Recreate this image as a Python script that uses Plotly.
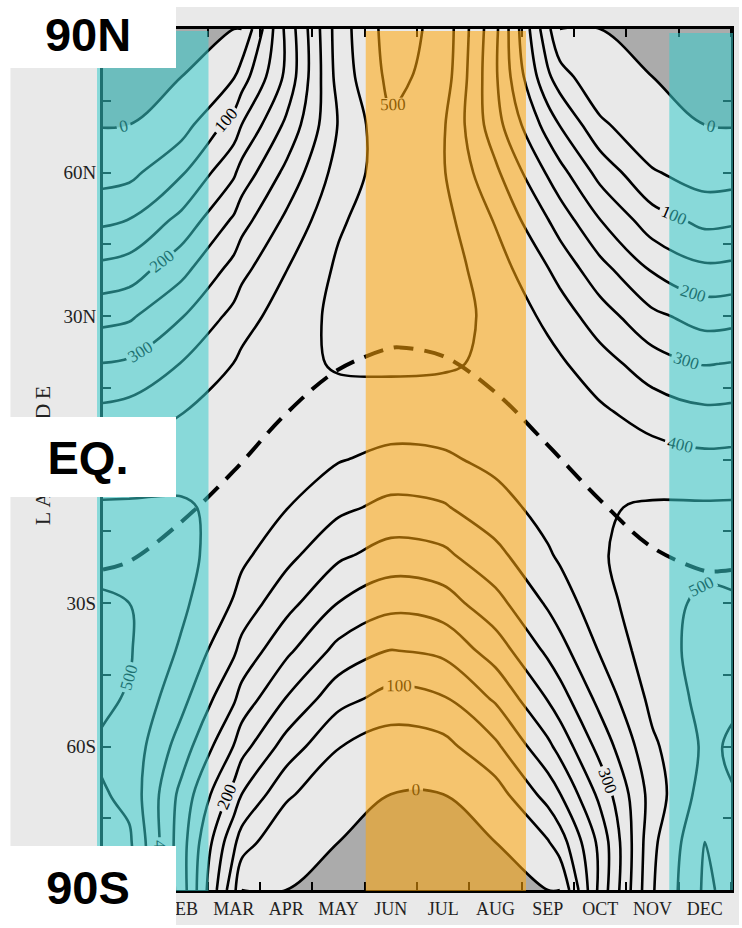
import plotly.graph_objects as go

# ---------------- data (daily mean insolation, W m-2, read/estimated from the chart) -------------
months = ["JAN", "FEB", "MAR", "APR", "MAY", "JUN", "JUL", "AUG", "SEP", "OCT", "NOV", "DEC"]
latitudes = [90, 80, 70, 60, 50, 40, 30, 20, 10, 0, -10, -20, -30, -40, -50, -60, -70, -80, -90]

# mid-month profiles
jan = [0, 0, 0, 36, 101, 172, 242, 308, 368, 418, 457, 485, 500, 504, 497, 484, 486, 509, 517]
feb = [0, 0, 28, 94, 165, 233, 297, 352, 398, 433, 455, 464, 460, 443, 415, 377, 335, 322, 326]
mar = [0, 47, 121, 192, 258, 316, 364, 401, 427, 439, 438, 424, 396, 357, 307, 248, 182, 111, 65]
apr = [212, 211, 260, 313, 360, 398, 424, 438, 438, 426, 402, 365, 318, 261, 198, 129, 60, 2, 0]
may = [426, 420, 403, 421, 443, 458, 462, 454, 435, 403, 361, 309, 249, 184, 117, 52, 3, 0, 0]
jun = [523, 515, 492, 477, 483, 484, 476, 458, 428, 387, 337, 279, 215, 148, 82, 24, 0, 0, 0]
jul = [485, 478, 456, 454, 466, 473, 469, 455, 429, 392, 345, 289, 227, 161, 95, 34, 0, 0, 0]
aug = [312, 307, 320, 360, 396, 423, 439, 443, 434, 413, 380, 336, 283, 223, 157, 90, 27, 0, 0]
sep = [64, 109, 179, 244, 302, 351, 389, 416, 430, 431, 419, 394, 357, 310, 253, 188, 119, 46, 0]
oct = [0, 2, 61, 132, 201, 266, 323, 371, 408, 433, 446, 445, 431, 404, 366, 318, 264, 215, 216]
nov = [0, 0, 3, 55, 122, 193, 261, 323, 377, 422, 455, 476, 484, 480, 464, 441, 422, 439, 446]
dec = [0, 0, 0, 25, 87, 158, 229, 297, 359, 412, 456, 488, 508, 516, 515, 508, 524, 550, 558]
# equinox profiles (21 Mar, 23 Sep)
mar_equinox = [0, 76, 150, 219, 281, 335, 379, 411, 431, 438, 431, 411, 379, 335, 281, 219, 150, 76, 0]
sep_equinox = [0, 75, 148, 217, 278, 332, 375, 407, 426, 433, 426, 407, 375, 332, 278, 217, 148, 75, 0]

# time of each profile, in months since 1 Jan
profile_month = [-0.5, 0.5, 1.5, 2.5, 2.65, 3.5, 4.5, 5.5, 6.5, 7.5, 8.5, 8.73, 9.5, 10.5, 11.5, 12.5]

# subsolar latitude (dashed line): time in months since 1 Jan, latitude in degrees
subsolar_month = [0, 0.5, 1.5, 2.5, 3.5, 4.5, 5.5, 5.67, 6.5, 7.5, 8.5, 9.5, 10.5, 11.5, 11.67, 12]
subsolar_lat = [-23.0, -21.3, -13.0, -2.4, 9.6, 18.8, 23.3, 23.44, 21.6, 14.0, 3.0, -8.5, -18.4, -23.3, -23.44, -23.1]

lat_tickvals = [60, 30, -30, -60]
lat_ticktext = ["60N", "30N", "30S", "60S"]

# ---------------- build grid (wrapped at both ends) ----------------
cols = [dec, jan, feb, mar, mar_equinox, apr, may, jun, jul, aug, sep, sep_equinox, oct, nov, dec, jan]
z = [[col[i] for col in cols] for i in range(len(latitudes))]

W, H = 742, 928
L, R, T, B = 103, 8, 29, 38
PW, PH = W - L - R, H - T - B


def px(xp):
    return (xp - L) / PW


def py(yp):
    return (H - B - yp) / PH


SERIF = "Liberation Serif, Times New Roman, serif"
SANS = "Liberation Sans, Arial, sans-serif"

fig = go.Figure()

# polar night (stippled grey in original)
fig.add_trace(go.Contour(
    x=profile_month, y=latitudes, z=z,
    contours=dict(type="constraint", operation=">", value=0.01),
    fillcolor="#ababab", line=dict(width=0, smoothing=1.0), showscale=False, hoverinfo="skip"))

# unlabeled contours (50, 150, ... 550)
fig.add_trace(go.Contour(
    x=profile_month, y=latitudes, z=z,
    contours=dict(start=50, end=550, size=100, coloring="none"),
    line=dict(color="black", width=2.6, smoothing=1.0), showscale=False, hoverinfo="skip"))

# labeled contours (0, 100, ... 500)
fig.add_trace(go.Contour(
    x=profile_month, y=latitudes, z=z,
    contours=dict(start=0, end=500, size=100, coloring="none", showlabels=True,
                  labelfont=dict(family=SERIF, size=17, color="black")),
    line=dict(color="black", width=2.6, smoothing=1.0), showscale=False, hoverinfo="skip"))

# subsolar latitude
fig.add_trace(go.Scatter(
    x=subsolar_month, y=subsolar_lat, mode="lines",
    line=dict(color="black", width=4, dash="20px,11px", shape="spline"),
    hoverinfo="skip", showlegend=False))

shapes = [
    # scanned page
    dict(type="rect", xref="paper", yref="paper", x0=px(10), x1=px(742), y0=py(925), y1=py(7),
         fillcolor="#e9e9e9", line=dict(width=0), layer="below"),
    # DJF / JJA bands
    dict(type="rect", xref="paper", yref="paper", x0=px(97), x1=px(209), y0=py(891), y1=py(31),
         fillcolor="#38cccc", opacity=0.55, line=dict(width=0), layer="above"),
    dict(type="rect", xref="paper", yref="paper", x0=px(672), x1=px(736), y0=py(890), y1=py(33),
         fillcolor="#38cccc", opacity=0.55, line=dict(width=0), layer="above"),
    dict(type="rect", xref="paper", yref="paper", x0=px(367), x1=px(528), y0=py(891), y1=py(31),
         fillcolor="#ffa50a", opacity=0.55, line=dict(width=0), layer="above"),
]


def label_box(text, x0, x1, y0, y1):
    return dict(text="<b>%s</b>" % text, xref="paper", yref="paper",
                x=px((x0 + x1) / 2), y=py((y0 + y1) / 2), xanchor="center", yanchor="middle",
                width=x1 - x0, height=y1 - y0, bgcolor="white", borderpad=0, borderwidth=0,
                align="center", valign="middle", showarrow=False,
                font=dict(family=SANS, size=47, color="black"))


annotations = [
    dict(text="L\u2009A\u2009T\u2009I\u2009T\u2009U\u2009D\u2009E", xref="paper", yref="paper",
         x=px(42), y=py(455), textangle=-90, showarrow=False,
         font=dict(family=SERIF, size=22, color="#222"), xanchor="center", yanchor="middle"),
    label_box("90N", 0, 176, 0, 68),
    label_box("EQ.", 0, 176, 417, 497),
    label_box("90S", 0, 176, 846, 928),
]

fig.update_layout(
    width=W, height=H,
    margin=dict(l=L, r=R, t=T, b=B),
    paper_bgcolor="white", plot_bgcolor="#e9e9e9",
    showlegend=False,
    shapes=shapes, annotations=annotations,
    xaxis=dict(range=[0, 12], tickmode="array", tickvals=[i + 0.5 for i in range(12)], ticktext=months,
               ticks="", showgrid=False, zeroline=False,
               showline=True, linecolor="black", linewidth=3, mirror="ticks",
               tickfont=dict(family=SERIF, size=18, color="#222"),
               minor=dict(tick0=0, dtick=1, ticks="inside", ticklen=8, tickwidth=2, tickcolor="black",
                          showgrid=False)),
    yaxis=dict(range=[-90, 90], tickmode="array", tickvals=lat_tickvals, ticktext=lat_ticktext,
               ticks="inside", ticklen=8, tickwidth=2, tickcolor="black",
               showgrid=False, zeroline=False,
               showline=True, linecolor="black", linewidth=3, mirror="ticks",
               tickfont=dict(family=SERIF, size=19, color="#222"),
               minor=dict(tick0=0, dtick=15, ticks="inside", ticklen=8, tickwidth=2, tickcolor="black",
                          showgrid=False)),
)

fig.write_html("out.html")
